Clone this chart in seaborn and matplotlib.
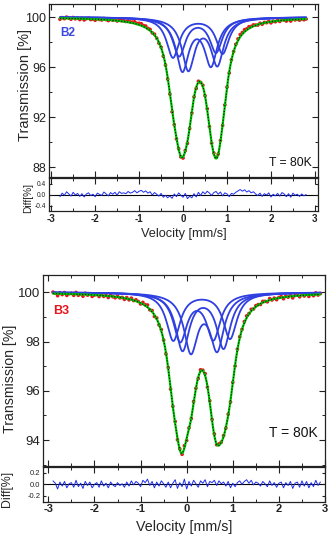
import numpy as np
import pandas as pd
import matplotlib
matplotlib.use("Agg")
import matplotlib.pyplot as plt
import seaborn as sns
from matplotlib.ticker import MultipleLocator, FormatStrFormatter

# ---------------- data ----------------
# Sample B2: four quadrupole doublets (isomer shift, splitting, line depth %, HWHM mm/s)
b2_shift = [0.335, 0.33, 0.31, 0.45]
b2_split = [1.13, 0.84, 0.65, 0.66]
b2_depth = [3.2, 3.05, 4.15, 4.1]
b2_hwhm = [0.175, 0.175, 0.175, 0.175]
b2_right_ratio = 0.9          # relative depth of the high-velocity line
b2_vmin, b2_vmax = -2.8, 2.8
b2_diff = [-0.08, 0.05, -0.03, 0.10, 0.02, -0.06, 0.08, -0.02, 0.04, -0.07,
           0.03, -0.09, 0.02, 0.06, -0.04, 0.01, -0.08, 0.05, 0.00, -0.03,
           0.09, 0.02, -0.05, 0.07, 0.01, 0.08, -0.02, 0.10, 0.04, 0.06,
           0.03, 0.11, 0.05, 0.08, 0.14, 0.06, 0.12, 0.15, 0.08, 0.13,
           0.05, 0.10, -0.02, 0.07, 0.01, -0.06, 0.04, -0.10, -0.03, -0.12,
           -0.05, -0.14, 0.02, -0.08, 0.06, -0.03, -0.10, 0.04, -0.15, -0.06,
           -0.12, 0.03, -0.09, 0.08, -0.04, 0.10, 0.02, 0.12, 0.05, -0.03,
           0.07, 0.11, 0.01, 0.09, -0.05, 0.06, 0.02, -0.08, 0.04, 0.01,
           0.08, 0.13, 0.18, 0.12, 0.17, 0.09, 0.14, 0.06, 0.10, 0.02,
           -0.04, 0.05, -0.07, 0.03, -0.02, 0.06, -0.09, 0.01, -0.05, 0.04,
           -0.06, 0.07, 0.02, -0.08, 0.03, -0.10, 0.05, -0.03, 0.01, -0.07,
           0.02, -0.05, 0.00]

# Sample B3
b3_shift = [0.325, 0.355, 0.375, 0.22]
b3_split = [1.23, 0.89, 0.57, 0.72]
b3_depth = [1.94, 2.31, 2.32, 1.93]
b3_hwhm = [0.18, 0.18, 0.18, 0.18]
b3_right_ratio = 0.96
b3_vmin, b3_vmax = -2.9, 2.9
b3_diff = [0.06, 0.02, -0.08, 0.04, -0.03, 0.05, -0.06, 0.01, 0.03, -0.05,
           0.07, -0.04, 0.02, -0.07, 0.05, -0.02, 0.04, -0.06, 0.00, 0.03,
           -0.05, 0.06, -0.03, 0.02, -0.06, 0.04, -0.01, -0.04, 0.03, -0.02,
           0.01, -0.05, 0.04, -0.03, 0.06, -0.01, 0.05, 0.02, -0.04, 0.07,
           0.03, 0.09, -0.02, 0.05, -0.06, 0.04, -0.03, 0.06, 0.01, -0.05,
           0.04, -0.06, 0.02, 0.08, -0.07, 0.03, -0.04, 0.09, -0.08, 0.05,
           -0.03, 0.07, 0.01, -0.05, 0.06, 0.02, 0.08, -0.04, 0.05, 0.03,
           0.07, -0.02, 0.06, 0.01, 0.04, -0.03, 0.05, -0.06, 0.02, -0.04,
           0.03, 0.06, 0.00, 0.05, 0.08, 0.02, 0.07, -0.01, 0.04, 0.02,
           -0.03, 0.05, 0.01, -0.04, 0.06, -0.02, 0.03, -0.05, 0.02, 0.04,
           -0.06, 0.03, -0.02, 0.05, -0.07, 0.02, 0.04, -0.05, 0.06, -0.03,
           0.05, -0.06, 0.03, -0.04, 0.07, -0.02, 0.04]

x_ticks = [-3, -2, -1, 0, 1, 2, 3]
temp_label = "T = 80K"

# ---------------- styling ----------------
sns.set_theme(style="ticks")
plt.rcParams["font.family"] = ["Liberation Sans", "DejaVu Sans"]
plt.rcParams["axes.linewidth"] = 0.9
plt.rcParams["axes.edgecolor"] = "#222222"

BLUE = "#2f3fe0"
GREEN = "#00c800"
RED = "#e8141e"


def lorentz_doublet(v, shift, split, depth, hwhm, ratio):
    g2 = hwhm ** 2
    return depth * (g2 / (g2 + (v - (shift - split / 2)) ** 2)
                    + ratio * g2 / (g2 + (v - (shift + split / 2)) ** 2))


def build(shift, split, depth, hwhm, ratio, vmin, vmax, diff):
    params = list(zip(shift, split, depth, hwhm))
    vfine = np.linspace(vmin, vmax, 561)
    comps = []
    for i, (s, q, d, w) in enumerate(params):
        comps.append(pd.DataFrame({"v": vfine,
                                   "T": 100 - lorentz_doublet(vfine, s, q, d, w, ratio),
                                   "comp": f"D{i+1}"}))
    comp_df = pd.concat(comps, ignore_index=True)
    total = 100 - sum(lorentz_doublet(vfine, s, q, d, w, ratio) for s, q, d, w in params)
    fit_df = pd.DataFrame({"v": vfine, "T": total})
    vch = np.round(np.linspace(vmin, vmax, len(diff)), 3)
    total_ch = 100 - sum(lorentz_doublet(vch, s, q, d, w, ratio) for s, q, d, w in params)
    data_df = pd.DataFrame({"v": vch, "T": total_ch + np.array(diff),
                            "diff": diff})
    return comp_df, fit_df, data_df


def style_axes(ax, tick_fs, minor_x=0.5):
    ax.tick_params(which="major", direction="in", top=True, right=True,
                   length=4, width=0.8, labelsize=tick_fs, pad=2,
                   colors="#222222")
    ax.tick_params(which="minor", direction="in", top=True, right=True,
                   length=2, width=0.7)
    ax.xaxis.set_minor_locator(MultipleLocator(minor_x))


def panel(fig, rect_main, rect_diff, comp_df, fit_df, data_df, xlim, ylim,
          yticks, yminor, dlim, dticks, label, label_color, label_xy,
          ylab_xy, dlab_xy, fs):
    axm = fig.add_axes(rect_main)
    axd = fig.add_axes(rect_diff)

    sns.scatterplot(data=data_df, x="v", y="T", ax=axm, color=RED, s=7,
                    marker="o", edgecolor="none", legend=False, zorder=2)
    sns.lineplot(data=comp_df, x="v", y="T", units="comp", estimator=None,
                 ax=axm, color=BLUE, lw=1.3, legend=False, zorder=3)
    sns.lineplot(data=fit_df, x="v", y="T", ax=axm, color=GREEN, lw=1.6,
                 legend=False, zorder=4)
    sns.lineplot(data=fit_df, x="v", y="T", ax=axm, color="black", lw=0.7,
                 legend=False, zorder=5, linestyle=(0, (1.2, 1.8)))

    axm.set_xlim(*xlim)
    axm.set_ylim(*ylim)
    axm.set_yticks(yticks)
    axm.yaxis.set_minor_locator(MultipleLocator(yminor))
    axm.set_xticks(x_ticks)
    axm.set_xticklabels([])
    axm.set_xlabel("")
    axm.set_ylabel("Transmission [%]", fontsize=fs["ylabel"])
    axm.yaxis.set_label_coords(*ylab_xy)
    style_axes(axm, fs["ytick"])
    axm.text(label_xy[0], label_xy[1], label, transform=axm.transAxes,
             color=label_color, fontsize=fs["tag"], fontweight="bold",
             ha="left", va="center")
    axm.text(0.975, fs["temp_y"], temp_label, transform=axm.transAxes,
             fontsize=fs["temp"], ha="right", va="center", color="#111111")

    sns.lineplot(data=data_df, x="v", y="diff", ax=axd, color="#1c2cf0",
                 lw=0.7, legend=False)
    axd.axhline(0, color="black", lw=0.8, zorder=0)
    axd.set_xlim(*xlim)
    axd.set_ylim(*dlim)
    axd.set_yticks(dticks)
    axd.yaxis.set_major_formatter(FormatStrFormatter("%.1f"))
    axd.set_xticks(x_ticks)
    axd.set_xticklabels([str(t) for t in x_ticks], fontweight="bold")
    axd.set_xlabel("Velocity [mm/s]", fontsize=fs["xlabel"], labelpad=fs["xpad"])
    axd.set_ylabel("Diff[%]", fontsize=fs["dlabel"])
    axd.yaxis.set_label_coords(*dlab_xy)
    style_axes(axd, fs["dtick"])
    axd.tick_params(axis="x", labelsize=fs["xtick"])
    axd.tick_params(axis="y", length=2.5)
    return axm, axd


fig = plt.figure(figsize=(3.33, 5.37), dpi=100)
W, H = 333.0, 537.0


def rect(l, r, t, b):
    return [l / W, 1 - b / H, (r - l) / W, (b - t) / H]


c2, f2, d2 = build(b2_shift, b2_split, b2_depth, b2_hwhm, b2_right_ratio,
                   b2_vmin, b2_vmax, b2_diff)
c3, f3, d3 = build(b3_shift, b3_split, b3_depth, b3_hwhm, b3_right_ratio,
                   b3_vmin, b3_vmax, b3_diff)

panel(fig, rect(49, 318, 4, 177), rect(49, 318, 178, 211), c2, f2, d2,
      xlim=(-3.05, 3.07), ylim=(87.2, 101.05), yticks=[88, 92, 96, 100],
      yminor=2, dlim=(-0.6, 0.6), dticks=[-0.4, 0.0, 0.4],
      label="B2", label_color="#3a48e0", label_xy=(0.04, 0.835),
      ylab_xy=(-0.065, 0.53), dlab_xy=(-0.06, 0.4),
      fs=dict(ylabel=10.5, ytick=9, tag=8.5, temp=8.8, temp_y=0.08,
              xlabel=9.2, xpad=3, dlabel=7.3, dtick=4.8, xtick=7))

panel(fig, rect(43.3, 325, 275, 465.7), rect(43.3, 325, 467, 501.7), c3, f3, d3,
      xlim=(-3.11, 3.0), ylim=(92.96, 100.7), yticks=[94, 96, 98, 100],
      yminor=1, dlim=(-0.3, 0.3), dticks=[-0.2, 0.0, 0.2],
      label="B3", label_color=RED, label_xy=(0.035, 0.81),
      ylab_xy=(-0.092, 0.455), dlab_xy=(-0.108, 0.37),
      fs=dict(ylabel=10.2, ytick=9.5, tag=9, temp=10, temp_y=0.17,
              xlabel=10.3, xpad=4, dlabel=8.8, dtick=5.5, xtick=8))

fig.savefig("out.png", dpi=100)
